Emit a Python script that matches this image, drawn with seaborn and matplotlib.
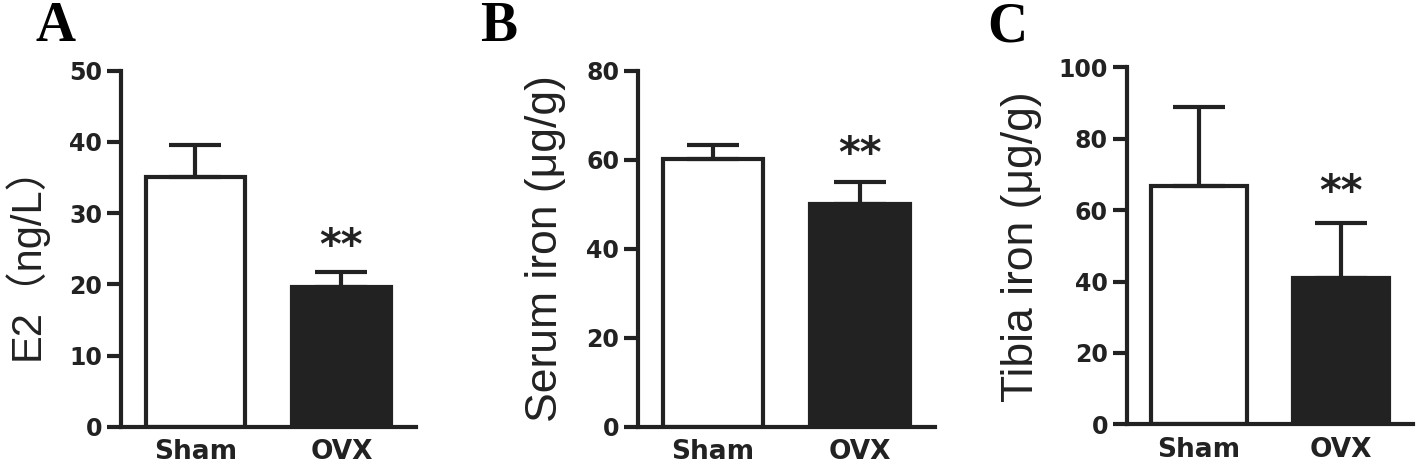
import matplotlib
matplotlib.use("Agg")
import matplotlib.pyplot as plt
import numpy as np
import pandas as pd
import seaborn as sns

sns.set_style("ticks")
plt.rcParams["font.family"] = ["Liberation Sans", "Noto Sans CJK SC", "DejaVu Sans"]

groups = ["Sham", "OVX"]

e2_mean = [35.0, 19.6]
e2_sem = [4.5, 2.1]
serum_mean = [60.2, 50.0]
serum_sem = [3.1, 5.1]
tibia_mean = [66.8, 41.1]
tibia_sem = [22.0, 15.4]

star_y = [25.2, 61.1, 64.8]
panel_letters = ["A", "B", "C"]
ylabels = ["E2（ng/L）", "Serum iron (μg/g)", "Tibia iron (μg/g)"]
ymaxes = [50, 80, 100]
ysteps = [10, 20, 20]

DARK = "#222222"
LW = 3.0

fig = plt.figure(figsize=(14.18, 4.66), dpi=100)

# axes boxes in figure fractions (left, bottom, width, height)
boxes = [
    (0.0853, 0.0843, 0.208, 0.764),
    (0.4499, 0.0843, 0.2094, 0.764),
    (0.7946, 0.0895, 0.2019, 0.766),
]
label_pos = [(-0.325, 0.49, 30), (-0.31, 0.5, 32), (-0.366, 0.497, 32)]
letter_x = [56, 499, 1007]


def draw_panel(ax, means, errs, ymax, ystep, ylabel, star, lab):
    df = pd.DataFrame({"group": groups, "value": means})
    sns.barplot(
        data=df, x="group", y="value", hue="group", order=groups,
        palette=["white", DARK], edgecolor=DARK, linewidth=LW,
        width=0.68, legend=False, ax=ax, errorbar=None,
    )
    ax.errorbar(
        [0, 1], means, yerr=[[0, 0], errs], fmt="none", ecolor=DARK,
        elinewidth=LW, capsize=19, capthick=LW, zorder=1,
    )
    ax.text(1, star, "**", ha="center", va="center", fontsize=30,
            fontweight="bold", family="DejaVu Sans", color=DARK)

    ax.set_xlim(-0.51, 1.51)
    ax.set_ylim(0, ymax)
    ax.set_yticks(np.arange(0, ymax + 1, ystep))
    sns.despine(ax=ax)
    for side in ["left", "bottom"]:
        ax.spines[side].set_linewidth(LW)
        ax.spines[side].set_color(DARK)
    ax.tick_params(axis="y", length=10, width=LW, color=DARK, pad=3.5,
                   labelsize=17, labelcolor=DARK)
    ax.tick_params(axis="x", length=0, pad=9, labelsize=19, labelcolor=DARK)
    for t in ax.get_xticklabels() + ax.get_yticklabels():
        t.set_fontweight("bold")
        t.set_family("DejaVu Sans")
    ax.set_xlabel("")
    lx, ly, fs = lab
    ax.set_ylabel(ylabel, fontsize=fs, color=DARK, va="center")
    ax.yaxis.set_label_coords(lx, ly)


data = [(e2_mean, e2_sem), (serum_mean, serum_sem), (tibia_mean, tibia_sem)]
for i, (means, errs) in enumerate(data):
    ax = fig.add_axes(boxes[i])
    draw_panel(ax, means, errs, ymaxes[i], ysteps[i], ylabels[i], star_y[i], label_pos[i])
    fig.text(letter_x[i] / 1418, 1 - 27 / 466, panel_letters[i], ha="center", va="center",
             fontsize=40, fontweight="bold", family="Liberation Serif", color="black")

fig.savefig("out.png", dpi=100)
